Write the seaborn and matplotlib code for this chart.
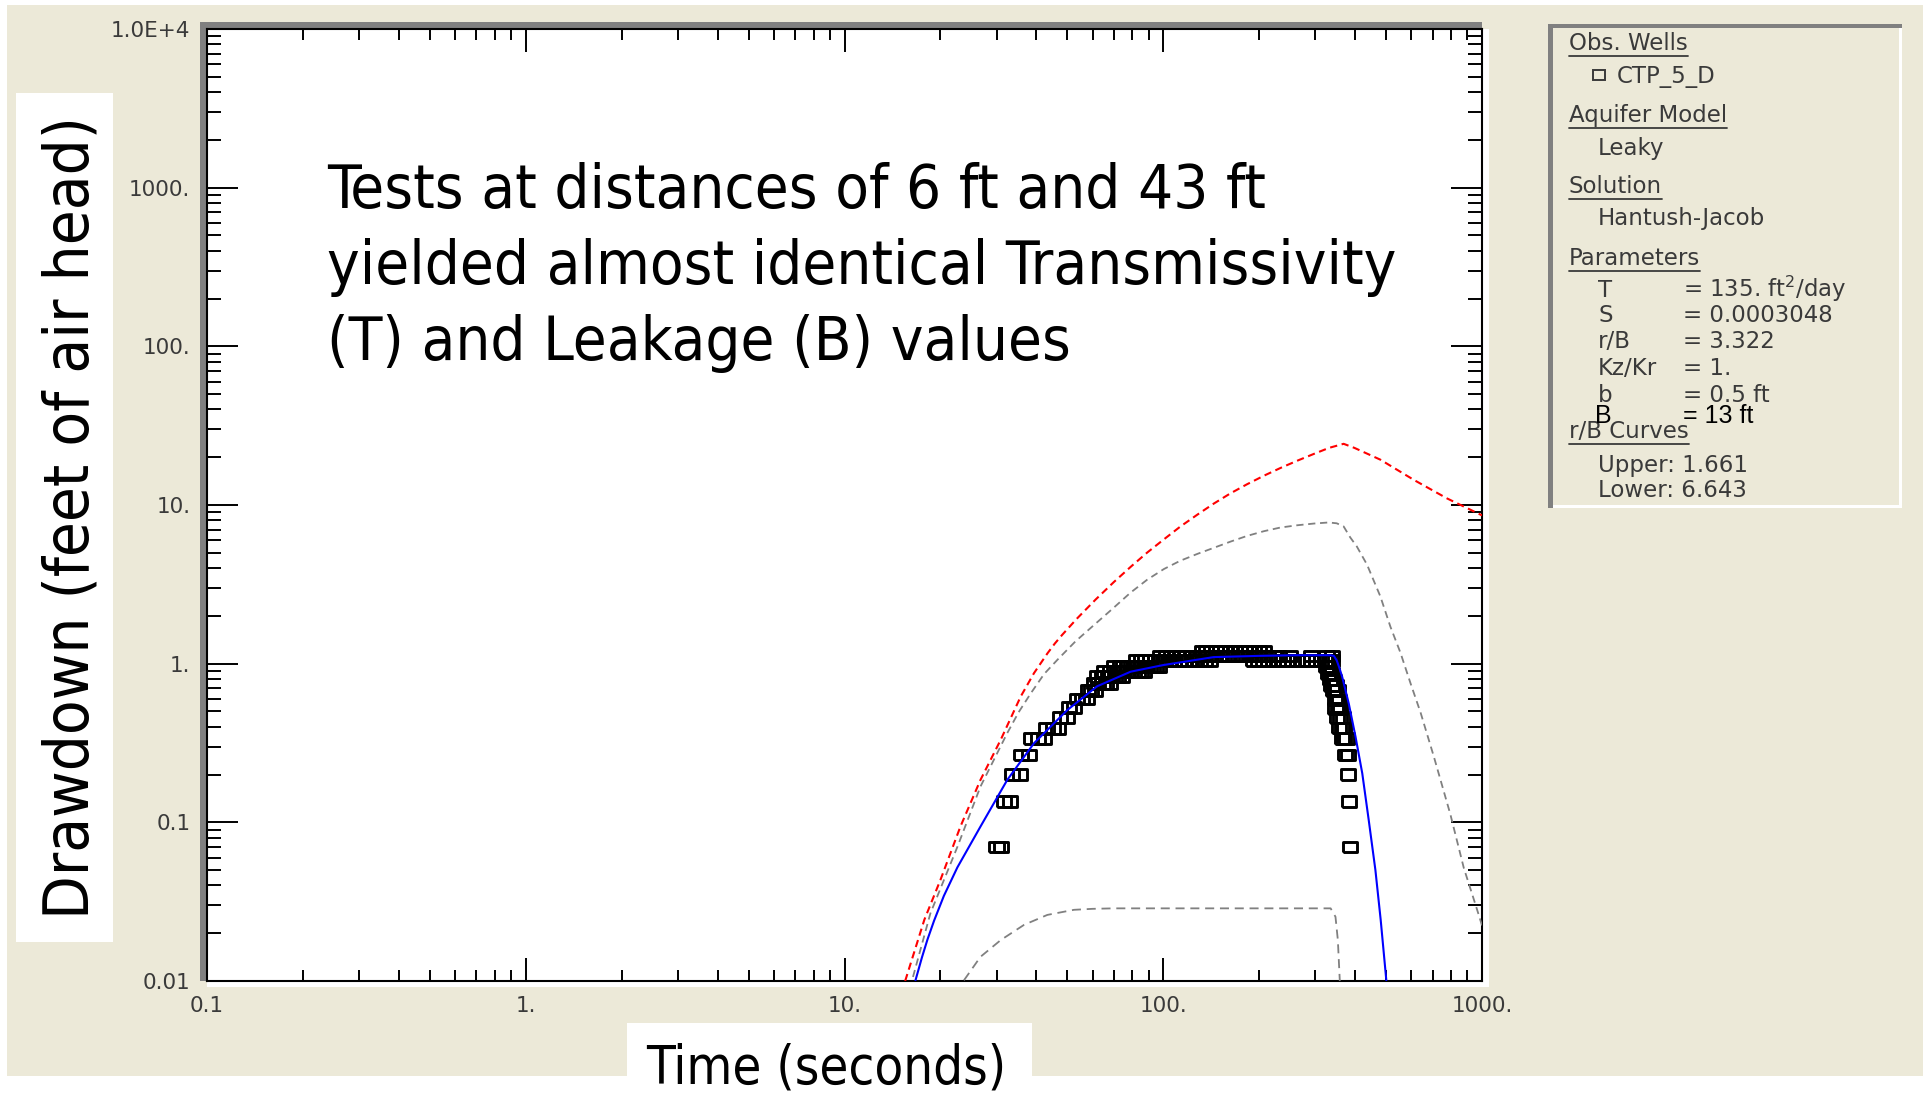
import os
import numpy as np
import pandas as pd
import matplotlib
matplotlib.use("Agg")
import matplotlib.pyplot as plt
import seaborn as sns
from matplotlib import font_manager as fm
from matplotlib.patches import Rectangle
from matplotlib.lines import Line2D
from matplotlib.ticker import FixedLocator, FixedFormatter, LogLocator, NullFormatter

W, H, DPI = 1923, 1094, 100

# ---------------------------------------------------------------- data
# observed drawdown at well CTP_5_D: (time s, drawdown ft)
rising_obs = [
    (30.0, 0.070), (31.0, 0.070),
    (31.6, 0.135), (33.0, 0.135),
    (33.5, 0.200), (35.5, 0.200),
    (35.8, 0.266), (38.0, 0.266),
    (38.4, 0.338), (40.5, 0.338), (42.3, 0.338),
    (43.0, 0.392), (45.0, 0.392), (46.7, 0.392),
    (47.4, 0.460), (49.8, 0.460),
    (50.5, 0.530), (52.4, 0.530),
    (53.7, 0.600), (55.5, 0.600), (57.4, 0.600),
    (58.0, 0.680), (59.5, 0.680), (61.0, 0.680),
    (60.5, 0.750), (62.5, 0.750), (64.5, 0.750), (66.2, 0.750), (67.9, 0.750),
    (62.0, 0.830), (64.5, 0.830), (67.0, 0.830), (68.8, 0.830), (70.5, 0.830),
    (72.2, 0.830), (74.0, 0.830),
    (65.0, 0.890), (68.0, 0.890), (71.5, 0.890), (73.2, 0.890), (75.0, 0.890),
    (77.0, 0.890), (79.0, 0.890), (81.0, 0.890), (83.0, 0.890), (85.0, 0.890),
    (87.0, 0.890),
    (70.0, 0.960), (73.0, 0.960), (75.0, 0.960), (77.0, 0.960), (79.0, 0.960),
    (81.0, 0.960), (83.0, 0.960), (85.0, 0.960), (87.0, 0.960), (89.0, 0.960),
    (91.0, 0.960), (93.0, 0.960), (95.0, 0.960), (97.0, 0.960),
]
plateau_obs = [
    (82, 1.05), (85, 1.05), (88, 1.05), (91, 1.05), (94, 1.05), (97, 1.05),
    (100, 1.05), (104, 1.05), (108, 1.05), (112, 1.05), (116, 1.05), (120, 1.05),
    (125, 1.05), (130, 1.05), (135, 1.05), (140, 1.05),
    (192, 1.05), (199, 1.05), (206, 1.05), (213, 1.05), (221, 1.05), (229, 1.05),
    (237, 1.05), (245, 1.05), (254, 1.05), (263, 1.05), (272, 1.05), (282, 1.05),
    (292, 1.05), (302, 1.05), (312, 1.05), (322, 1.05), (331, 1.05), (338, 1.05),
    (98, 1.12), (102, 1.12), (106, 1.12), (110, 1.12), (114, 1.12), (118, 1.12),
    (123, 1.12), (128, 1.12), (133, 1.12), (138, 1.12), (143, 1.12), (149, 1.12),
    (155, 1.12), (161, 1.12), (168, 1.12), (175, 1.12), (182, 1.12), (189, 1.12),
    (197, 1.12), (205, 1.12), (213, 1.12), (222, 1.12), (231, 1.12),
    (250, 1.12), (290, 1.12), (325, 1.12), (338, 1.12),
    (132, 1.20), (136, 1.20), (141, 1.20), (146, 1.20), (151, 1.20), (156, 1.20),
    (162, 1.20), (168, 1.20), (174, 1.20), (180, 1.20), (186, 1.20), (193, 1.20),
    (200, 1.20), (207, 1.20),
]
recovery_obs = [
    (324, 0.96), (328, 0.96), (332, 0.96),
    (328, 0.87), (333, 0.87), (338, 0.87),
    (333, 0.79), (338, 0.79), (343, 0.79),
    (337, 0.73), (342, 0.73), (348, 0.73),
    (341, 0.68), (346, 0.68), (352, 0.68),
    (345, 0.59), (350, 0.59), (356, 0.59),
    (347, 0.52), (353, 0.52), (359, 0.52),
    (350, 0.46), (358, 0.46), (366, 0.46),
    (356, 0.393), (363, 0.393), (370, 0.393),
    (364, 0.338), (370, 0.338), (376, 0.338),
    (372, 0.266), (380, 0.266),
    (380, 0.200),
    (382, 0.135),
    (385, 0.070),
]

# Hantush-Jacob fitted type curve
fit_time = [16.7, 17.5, 18.2, 19.1, 20.5, 22.6, 26.7, 32.4, 39.3, 50, 62, 79, 100,
            144, 200, 260, 335, 343, 350, 356, 364, 382, 401, 421, 441, 463, 481, 501]
fit_drawdown = [0.0101, 0.0141, 0.0182, 0.0240, 0.0344, 0.052, 0.094, 0.185, 0.315,
                0.51, 0.72, 0.89, 0.98, 1.10, 1.12, 1.13, 1.13, 1.12, 1.05, 0.955,
                0.83, 0.56, 0.347, 0.204, 0.104, 0.050, 0.0243, 0.0101]

# dashed red reference curve (no leakage)
noleak_time = [15.5, 17.8, 20.0, 23.1, 26.7, 30.9, 35.7, 39.3, 43.3, 45.7, 48.2, 53.7,
               61.4, 70, 79.4, 89, 100, 113, 128, 144, 162, 183, 207, 233, 263, 297,
               331, 368, 398, 480, 611, 777, 966, 1000]
noleak_drawdown = [0.0100, 0.0243, 0.0434, 0.094, 0.185, 0.331, 0.62, 0.871, 1.16,
                   1.34, 1.52, 1.93, 2.54, 3.27, 4.11, 5.01, 6.03, 7.3, 8.7, 10.2,
                   11.8, 13.5, 15.3, 17.1, 19.0, 21.0, 22.9, 24.3, 22.9, 19.3, 14.4,
                   11.0, 8.9, 8.6]

# r/B bounding curves
upper_rb_time = [16.4, 18.6, 22.6, 26.7, 32.4, 35.2, 38.4, 42.3, 46.6, 53, 60.6, 69,
                 78.9, 89, 100.5, 113, 128, 144, 163, 183, 207, 233, 263, 297, 330,
                 350, 368, 386, 405, 436, 480, 516, 555, 597, 642, 706, 796, 877, 966,
                 1000]
upper_rb_drawdown = [0.0106, 0.0267, 0.070, 0.168, 0.365, 0.495, 0.65, 0.861, 1.06,
                     1.38, 1.75, 2.20, 2.80, 3.38, 3.95, 4.45, 4.92, 5.37, 5.89, 6.38,
                     6.84, 7.21, 7.45, 7.64, 7.76, 7.67, 7.33, 6.25, 5.47, 4.20, 2.65,
                     1.71, 1.17, 0.75, 0.49, 0.26, 0.112, 0.0515, 0.028, 0.0224]
lower_rb_time = [23.7, 26.7, 30.9, 36.6, 43.3, 52.5, 60, 70, 150, 335, 347, 353, 358]
lower_rb_drawdown = [0.0101, 0.0142, 0.0181, 0.0226, 0.0261, 0.0281, 0.0285, 0.0287,
                     0.0287, 0.0287, 0.0254, 0.0181, 0.0100]

x_ticks = [0.1, 1, 10, 100, 1000]
x_tick_labels = ["0.1", "1.", "10.", "100.", "1000."]
y_ticks = [0.01, 0.1, 1, 10, 100, 1000, 10000]
y_tick_labels = ["0.01", "0.1", "1.", "10.", "100.", "1000.", "1.0E+4"]

legend_headers = ["Obs. Wells", "Aquifer Model", "Solution", "Parameters", "r/B Curves"]
param_names = ["T", "S", "r/B", "Kz/Kr", "b"]
param_values = ["= 135. ft$^{2}$/day", "= 0.0003048", "= 3.322", "= 1.", "= 0.5 ft"]

# ---------------------------------------------------------------- style
sns.set_style("white")
plt.rcParams.update({
    "font.family": ["DejaVu Sans"],
    "mathtext.fontset": "dejavusans",
})

BEIGE = "#ECE9D8"
GRAY = "#808080"
TXT = "#3a3a3a"


def find_narrow_font():
    files = [f.fname for f in fm.fontManager.ttflist]
    for f in files:
        b = os.path.basename(f)
        if b.startswith("DejaVuSansCondensed") and "Bold" not in b and "Oblique" not in b:
            return fm.FontProperties(fname=f)
    for f in files:
        if os.path.basename(f).startswith("LiberationSansNarrow-Regular"):
            return fm.FontProperties(fname=f)
    return fm.FontProperties(family="Liberation Sans")


fig = plt.figure(figsize=(W / DPI, H / DPI), dpi=DPI, facecolor="white")


def prect(x0, y0, x1, y1, color, z=-1):
    fig.add_artist(Rectangle((x0 / W, 1 - y1 / H), (x1 - x0) / W, (y1 - y0) / H,
                             transform=fig.transFigure, facecolor=color,
                             edgecolor="none", zorder=z))


def fxy(x, y):
    return x / W, 1 - y / H


# window background and sunken plot frame
prect(7, 5, W, 1076, BEIGE, z=-3)
prect(200, 22, 1482, 29, GRAY)
prect(200, 22, 207, 981, GRAY)
prect(207, 981, 1489, 987, "white")
prect(1482, 29, 1489, 987, "white")

ax = fig.add_axes([207 / W, 1 - 981 / H, (1482 - 207) / W, (981 - 29) / H])
ax.set_facecolor("white")
ax.set_xscale("log")
ax.set_yscale("log")

obs = pd.DataFrame(rising_obs + plateau_obs + recovery_obs, columns=["time", "drawdown"])
rect_marker = [(-0.6, -0.45), (0.6, -0.45), (0.6, 0.45), (-0.6, 0.45), (-0.6, -0.45)]
sns.scatterplot(data=obs, x="time", y="drawdown", ax=ax, marker=rect_marker, s=105,
                facecolor="none", edgecolor="black", linewidth=2.1, legend=False,
                zorder=2)

sns.lineplot(x=noleak_time, y=noleak_drawdown, ax=ax, color="#ff0000", lw=1.5,
             linestyle=(0, (3.5, 2.2)), sort=False, estimator=None, errorbar=None, zorder=3)
sns.lineplot(x=upper_rb_time, y=upper_rb_drawdown, ax=ax, color=GRAY, lw=1.3,
             linestyle=(0, (4, 2.6)), sort=False, estimator=None, errorbar=None, zorder=3)
sns.lineplot(x=lower_rb_time, y=lower_rb_drawdown, ax=ax, color=GRAY, lw=1.3,
             linestyle=(0, (5, 3.2)), sort=False, estimator=None, errorbar=None, zorder=3)
sns.lineplot(x=fit_time, y=fit_drawdown, ax=ax, color="#0000ff", lw=1.5,
             sort=False, estimator=None, errorbar=None, zorder=4)

ax.set_xlim(0.1, 1000)
ax.set_ylim(0.01, 1e4)
ax.set_xlabel("")
ax.set_ylabel("")
ax.xaxis.set_major_locator(FixedLocator(x_ticks))
ax.xaxis.set_major_formatter(FixedFormatter(x_tick_labels))
ax.yaxis.set_major_locator(FixedLocator(y_ticks))
ax.yaxis.set_major_formatter(FixedFormatter(y_tick_labels))
for a in (ax.xaxis, ax.yaxis):
    a.set_minor_locator(LogLocator(base=10, subs=np.arange(2, 10), numticks=100))
    a.set_minor_formatter(NullFormatter())

ax.tick_params(axis="x", which="major", direction="in", length=16.5, width=1.4,
               top=True, bottom=True, labelsize=15.5, labelcolor=TXT, pad=11, color="black")
ax.tick_params(axis="x", which="minor", direction="in", length=8, width=1.4,
               top=True, bottom=True, color="black")
ax.tick_params(axis="y", which="major", direction="in", length=22, width=1.4,
               left=True, right=True, labelsize=15.5, labelcolor=TXT, pad=12, color="black")
ax.tick_params(axis="y", which="minor", direction="in", length=10, width=1.4,
               left=True, right=True, color="black")
for sp in ax.spines.values():
    sp.set_visible(True)
    sp.set_color("black")
    sp.set_linewidth(1.5)

# axis title boxes
prect(16, 93, 113, 942, "white")
prect(627, 1023, 1032, H, "white")

narrow = find_narrow_font()
ylab = fig.text(*fxy(72, 518), "Drawdown (feet of air head)", rotation=90,
                ha="center", va="center", fontproperties=narrow.copy(), color="black")
xlab = fig.text(*fxy(826, 1083), "Time (seconds)", ha="center", va="baseline",
                fontproperties=narrow.copy(), color="black")

note_lines = ["Tests at distances of 6 ft and 43 ft",
              "yielded almost identical Transmissivity",
              "(T) and Leakage (B) values"]
note_baselines = [208, 284, 360]
notes = [fig.text(*fxy(327, yb), s, ha="left", va="baseline",
                  fontproperties=narrow.copy(), color="black")
         for s, yb in zip(note_lines, note_baselines)]

# legend panel
prect(1548, 24, 1902, 508, BEIGE, z=-2)
prect(1548, 24, 1553, 508, GRAY)
prect(1548, 24, 1902, 28, GRAY)
prect(1899, 28, 1902, 508, "white")
prect(1553, 505, 1902, 508, "white")

LFS = 16.5
header_y = [50, 122, 193, 265, 438]
headers = [fig.text(*fxy(1569, y), s, fontsize=LFS, color=TXT, va="baseline")
           for s, y in zip(legend_headers, header_y)]
fig.add_artist(Rectangle(fxy(1593, 80), 12 / W, 10 / H, transform=fig.transFigure,
                         facecolor="none", edgecolor=TXT, linewidth=1.4))
fig.text(*fxy(1617, 83), "CTP_5_D", fontsize=LFS, color=TXT, va="baseline")
fig.text(*fxy(1598, 155), "Leaky", fontsize=LFS, color=TXT, va="baseline")
fig.text(*fxy(1598, 225), "Hantush-Jacob", fontsize=LFS, color=TXT, va="baseline")
for name, val, y in zip(param_names, param_values, [297, 322, 348, 375, 402]):
    fig.text(*fxy(1598, y), name, fontsize=LFS, color=TXT, va="baseline")
    fig.text(*fxy(1683, y), val, fontsize=LFS, color=TXT, va="baseline")
fig.text(*fxy(1595, 423), "B", fontsize=18, color="black", va="baseline",
         family="Liberation Sans")
fig.text(*fxy(1683, 423), "= 13 ft", fontsize=18, color="black", va="baseline",
         family="Liberation Sans")
fig.text(*fxy(1598, 472), "Upper: 1.661", fontsize=LFS, color=TXT, va="baseline")
fig.text(*fxy(1598, 497), "Lower: 6.643", fontsize=LFS, color=TXT, va="baseline")

# size the large texts to their boxes
fig.canvas.draw()
r = fig.canvas.get_renderer()


def fit(t, target, use_height=False):
    for _ in range(3):
        bb = t.get_window_extent(r)
        cur = bb.height if use_height else bb.width
        t.set_fontsize(t.get_fontsize() * target / cur)


fit(ylab, 803, use_height=True)
fit(xlab, 360)
fit(notes[1], 1069)
for t in notes:
    t.set_fontsize(notes[1].get_fontsize())

fig.canvas.draw()
for t, y in zip(headers, header_y):
    bb = t.get_window_extent(r)
    yy = 1 - (y + 6) / H
    fig.add_artist(Line2D([bb.x0 / W, bb.x1 / W], [yy, yy], transform=fig.transFigure,
                          color=TXT, lw=1.3))

fig.savefig("out.png", dpi=DPI, facecolor="white")
